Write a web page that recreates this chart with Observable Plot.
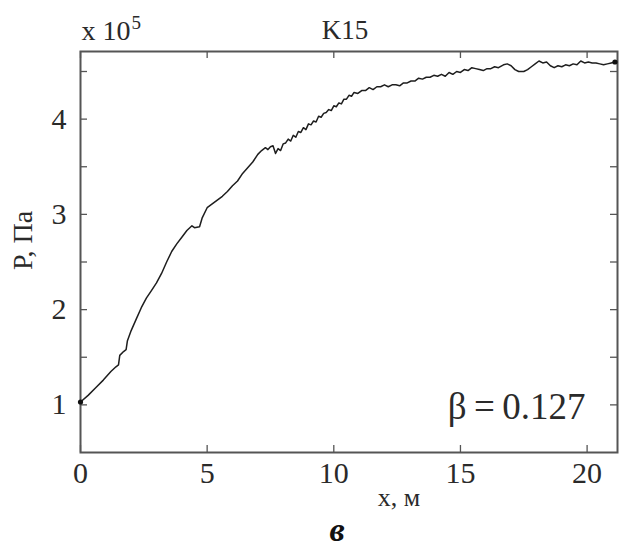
<!DOCTYPE html>
<html>
<head>
<meta charset="utf-8">
<script src="https://cdn.jsdelivr.net/npm/d3@7"></script>
<script src="https://cdn.jsdelivr.net/npm/@observablehq/plot@0.6"></script>
<style>
  html, body { margin: 0; padding: 0; background: #fff; }
  #chart svg { display: block; }
  #chart svg, #chart svg text { font-family: "Liberation Serif", "Times New Roman", Times, serif !important; }
</style>
</head>
<body>
<div id="chart"></div>
<script>
// Distance along the channel, m
const xs = [
  0, 0.3, 0.6, 0.9, 1.2, 1.4, 1.5, 1.55, 1.7, 1.8, 1.85, 2.0, 2.2, 2.4, 2.6, 2.8,
  3.0, 3.2, 3.4, 3.6, 3.8, 4.0, 4.2, 4.4, 4.5, 4.7, 4.8, 5.0, 5.2, 5.4, 5.6, 5.8,
  6.0, 6.2, 6.4, 6.6, 6.8, 7.0, 7.15, 7.3, 7.4, 7.5, 7.6, 7.7, 7.8, 7.9, 8.0, 8.1,
  8.2, 8.3, 8.4, 8.5, 8.6, 8.7, 8.8, 8.9, 9.0, 9.1, 9.2, 9.3, 9.4, 9.5, 9.6, 9.7,
  9.8, 9.9, 10.0, 10.1, 10.2, 10.3, 10.4, 10.5, 10.6, 10.7, 10.8, 10.95, 11.1, 11.25,
  11.4, 11.55, 11.7, 11.85, 12.0, 12.15, 12.3, 12.45, 12.6, 12.75, 12.9, 13.05, 13.2,
  13.35, 13.5, 13.65, 13.8, 13.95, 14.1, 14.25, 14.4, 14.55, 14.7, 14.85, 15.0, 15.15,
  15.3, 15.45, 15.6, 15.75, 15.9, 16.05, 16.2, 16.35, 16.5, 16.7, 16.85, 17.0, 17.15,
  17.3, 17.5, 17.65, 17.8, 17.95, 18.1, 18.25, 18.4, 18.55, 18.7, 18.85, 19.0, 19.15,
  19.3, 19.45, 19.6, 19.75, 19.9, 20.05, 20.2, 20.35, 20.5, 20.65, 20.8, 20.95, 21.1
];
// Pressure, x 10^5 Pa
const ps = [
  1.03, 1.10, 1.18, 1.26, 1.35, 1.40, 1.42, 1.52, 1.56, 1.58, 1.67, 1.78, 1.90, 2.02, 2.12, 2.20,
  2.28, 2.38, 2.50, 2.61, 2.69, 2.76, 2.83, 2.88, 2.86, 2.87, 2.96, 3.07, 3.11, 3.15, 3.19, 3.24,
  3.30, 3.35, 3.43, 3.49, 3.55, 3.63, 3.67, 3.70, 3.68, 3.71, 3.72, 3.64, 3.69, 3.67, 3.74, 3.75,
  3.79, 3.77, 3.83, 3.81, 3.87, 3.86, 3.91, 3.89, 3.95, 3.94, 3.98, 3.97, 4.03, 4.02, 4.06, 4.07,
  4.10, 4.09, 4.14, 4.13, 4.17, 4.16, 4.21, 4.21, 4.25, 4.24, 4.28, 4.27, 4.30, 4.30,
  4.33, 4.31, 4.34, 4.34, 4.36, 4.34, 4.36, 4.36, 4.35, 4.38, 4.38, 4.40, 4.40,
  4.43, 4.42, 4.44, 4.44, 4.46, 4.45, 4.47, 4.45, 4.49, 4.47, 4.50, 4.49, 4.52,
  4.51, 4.54, 4.53, 4.52, 4.51, 4.53, 4.53, 4.55, 4.54, 4.57, 4.58, 4.56, 4.52,
  4.50, 4.50, 4.52, 4.55, 4.58, 4.61, 4.59, 4.60, 4.56, 4.54, 4.56, 4.55, 4.57,
  4.56, 4.58, 4.57, 4.61, 4.59, 4.60, 4.59, 4.59, 4.58, 4.57, 4.58, 4.59, 4.60
];
const xTicks = [0, 5, 10, 15, 20];
const yLabelTicks = [1, 2, 3, 4];
const yTicks = [1, 1.5, 2, 2.5, 3, 3.5, 4, 4.5];
const titleText = "K15";
const scaleText = "x 10";
const scaleExp = "5";
const betaText = "β\u2009=\u20090.127";
const xLabel = "x, м";
const yLabel = "P, Па";
const panelLabel = "в";

const data = xs.map((x, i) => ({x, p: ps[i]}));
const ends = [data[0], data[data.length - 1]];

const W = 621, H = 547;
const mL = 80, mR = 4, mT = 51, mB = 95;
const pw = W - mL - mR, ph = H - mT - mB;
const tick = 7;
const font = "\"Liberation Serif\", \"Times New Roman\", Times, serif";
const ink = "#2a2a2a";

const chart = Plot.plot({
  width: W, height: H,
  marginLeft: mL, marginRight: mR, marginTop: mT, marginBottom: mB,
  style: {fontFamily: font, color: ink, background: "#fff"},
  x: {domain: [0, 21.2], label: null},
  y: {domain: [0.5, 4.71], label: null},
  marks: [
    Plot.axisX({ticks: xTicks, tickSize: 0, tickPadding: 9, fontSize: 30, fontFamily: font, label: null, tickFormat: d3.format("d")}),
    Plot.axisY({ticks: yLabelTicks, tickSize: 0, tickPadding: 14, fontSize: 30, fontFamily: font, label: null, tickFormat: d3.format("d")}),
    // inward ticks on all four sides
    Plot.tickX(xTicks, {x: d => d, insetTop: ph - tick, stroke: "#555", strokeWidth: 1.3}),
    Plot.tickX(xTicks, {x: d => d, insetBottom: ph - tick, stroke: "#555", strokeWidth: 1.3}),
    Plot.tickY(yTicks, {y: d => d, insetRight: pw - tick, stroke: "#555", strokeWidth: 1.3}),
    Plot.tickY(yTicks, {y: d => d, insetLeft: pw - tick, stroke: "#555", strokeWidth: 1.3}),
    Plot.frame({stroke: "#555", strokeWidth: 2}),
    Plot.line(data, {x: "x", y: "p", stroke: "#1e1e1e", strokeWidth: 1.5}),
    Plot.dot(ends, {x: "x", y: "p", r: 2.6, fill: "#111", stroke: null}),
    // texts
    Plot.text([titleText], {frameAnchor: "top", text: d => d, dx: -4, dy: -13, lineAnchor: "bottom", fontSize: 27, fontFamily: font, fill: ink}),
    Plot.text([scaleText], {frameAnchor: "top-left", text: d => d, dx: 1, dy: -12, textAnchor: "start", lineAnchor: "bottom", fontSize: 28, fontFamily: font, fill: ink}),
    Plot.text([scaleExp], {frameAnchor: "top-left", text: d => d, dx: 51, dy: -23, textAnchor: "start", lineAnchor: "bottom", fontSize: 19, fontFamily: font, fill: ink}),
    Plot.text([betaText], {frameAnchor: "bottom-right", text: d => d, dx: -32, dy: -34, textAnchor: "end", lineAnchor: "bottom", fontSize: 37, fontFamily: font, fill: ink}),
    Plot.text([xLabel], {frameAnchor: "bottom", text: d => d, dx: 50, dy: 53, lineAnchor: "bottom", fontSize: 26, fontFamily: font, fill: ink}),
    Plot.text([panelLabel], {frameAnchor: "bottom", text: d => d, dx: -12, dy: 88, lineAnchor: "bottom", fontSize: 34, fontStyle: "italic", fontWeight: "bold", fontFamily: font, fill: "#111"}),
    Plot.text([yLabel], {frameAnchor: "left", text: d => d, dx: -57, dy: 18, rotate: -90, fontSize: 28, fontFamily: font, fill: ink})
  ]
});
document.getElementById("chart").append(chart);
</script>
</body>
</html>
